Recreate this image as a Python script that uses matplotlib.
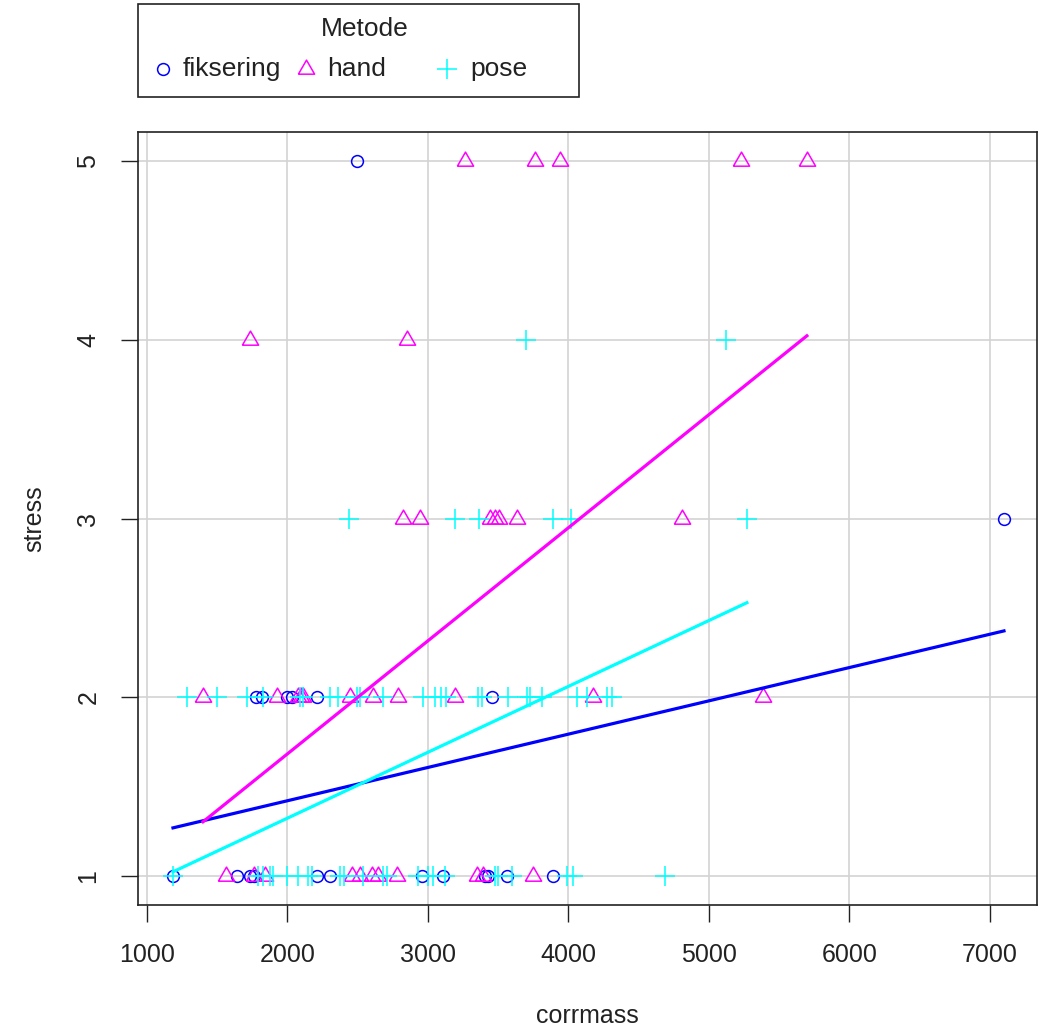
import matplotlib
matplotlib.use("Agg")
import matplotlib.pyplot as plt
from matplotlib.lines import Line2D
from matplotlib.patches import Rectangle
import numpy as np

plt.rcParams['font.family'] = ['Liberation Sans', 'DejaVu Sans']

# corrmass / stress observations per method
fiks_x = [2495, 7100,
          1776, 1818, 1996, 2032, 2210, 3455,
          1185, 1641, 1733, 1762, 2210, 2302, 2957, 3107, 3406, 3427, 3562, 3890]
fiks_y = [5, 3,
          2, 2, 2, 2, 2, 2,
          1, 1, 1, 1, 1, 1, 1, 1, 1, 1, 1, 1]

hand_x = [3263, 3761, 3939, 5228, 5697,
          1733, 2850,
          2822, 2943, 3441, 3477, 3505, 3633, 4808,
          1399, 1925, 2075, 2096, 2110, 2445, 2608, 2786, 3192, 4174, 5384,
          1562, 1762, 1840, 2459, 2516, 2601, 2644, 2779, 3349, 3391, 3747]
hand_y = [5, 5, 5, 5, 5,
          4, 4,
          3, 3, 3, 3, 3, 3, 3,
          2, 2, 2, 2, 2, 2, 2, 2, 2, 2, 2,
          1, 1, 1, 1, 1, 1, 1, 1, 1, 1, 1]

pose_x = [3697, 5121,
          2438, 3192, 3363, 3890, 4018, 5270,
          1285, 1498, 1712, 1826, 2089, 2110, 2302, 2359, 2495, 2516, 2680, 2964,
          3050, 3092, 3128, 3356, 3384, 3569, 3704, 3726, 3811, 4060, 4131, 4273, 4309,
          1185, 1790, 1826, 1875, 1897, 1996, 2075, 2146, 2174, 2374, 2402, 2537,
          2680, 2708, 2929, 3000, 3035, 3121, 3477, 3498, 3598, 3989, 4032, 4687]
pose_y = [4, 4,
          3, 3, 3, 3, 3, 3,
          2, 2, 2, 2, 2, 2, 2, 2, 2, 2, 2, 2,
          2, 2, 2, 2, 2, 2, 2, 2, 2, 2, 2, 2, 2,
          1, 1, 1, 1, 1, 1, 1, 1, 1, 1, 1, 1,
          1, 1, 1, 1, 1, 1, 1, 1, 1, 1, 1, 1]

# fitted lines per method: intercept, slope
fit_intercept = {'fiksering': 1.0505, 'hand': 0.421, 'pose': 0.589}
fit_slope = {'fiksering': 1.861e-4, 'hand': 6.319e-4, 'pose': 3.682e-4}

methods = ['fiksering', 'hand', 'pose']
colors = {'fiksering': '#0000FF', 'hand': '#FF00FF', 'pose': '#00FFFF'}

x_ticks = [1000, 2000, 3000, 4000, 5000, 6000, 7000]
y_ticks = [1, 2, 3, 4, 5]

# equilateral triangle marker
tri = [(-1.0, -0.577), (1.0, -0.577), (0.0, 1.155), (-1.0, -0.577)]
markers = {'fiksering': dict(marker='o', ms=8.5),
           'hand': dict(marker=tri, ms=13.5),
           'pose': dict(marker='+', ms=14)}

data = {'fiksering': (fiks_x, fiks_y), 'hand': (hand_x, hand_y), 'pose': (pose_x, pose_y)}

W, H = 1043, 1031
fig = plt.figure(figsize=(W / 100, H / 100), dpi=100)
ax = fig.add_axes([138 / W, 1 - 905 / H, (1037 - 138) / W, (905 - 132) / H])

for v in x_ticks:
    ax.axvline(v, color='#D3D3D3', lw=1.2, zorder=0)
for v in y_ticks:
    ax.axhline(v, color='#D3D3D3', lw=1.2, zorder=0)

for m in methods:
    xs, ys = data[m]
    ax.plot(xs, ys, linestyle='none', markerfacecolor='none',
            markeredgecolor=colors[m], markeredgewidth=1.1, zorder=3, **markers[m])
    xr = np.array([min(xs), max(xs)])
    ax.plot(xr, fit_intercept[m] + fit_slope[m] * xr, color=colors[m], lw=2.3, zorder=4)

ax.set_xlim(936, 7335)
ax.set_ylim(0.84, 5.16)
ax.set_xticks(x_ticks)
ax.set_yticks(y_ticks)
ax.tick_params(axis='both', length=12, width=1.0, labelsize=18, colors='#222222', pad=15)
for lab in ax.get_yticklabels():
    lab.set_rotation(90)
    lab.set_va('center')
    lab.set_ha('right')
for sp in ax.spines.values():
    sp.set_linewidth(1.2)
    sp.set_color('#222222')

ax.set_xlabel('corrmass', fontsize=18, color='#222222', labelpad=27)
ax.set_ylabel('stress', fontsize=18, color='#222222', labelpad=22)

# legend box
fig.add_artist(Rectangle((138 / W, 1 - 97 / H), (579 - 138) / W, 93 / H,
                         transform=fig.transFigure, fill=False, lw=1.2, edgecolor='#222222'))
fig.text(365 / W, 1 - 29 / H, 'Metode', fontsize=19, ha='center', va='center', color='#222222')
leg_pos = {'fiksering': (163, 183), 'hand': (306, 327), 'pose': (447, 470)}
for m in methods:
    mx, tx = leg_pos[m]
    fig.add_artist(Line2D([mx / W], [1 - 69 / H], transform=fig.transFigure,
                          linestyle='none', markerfacecolor='none',
                          markeredgecolor=colors[m], markeredgewidth=1.1, **markers[m]))
    fig.text(tx / W, 1 - 69 / H, m, fontsize=19, ha='left', va='center', color='#222222')

fig.savefig('out.png', dpi=100)
